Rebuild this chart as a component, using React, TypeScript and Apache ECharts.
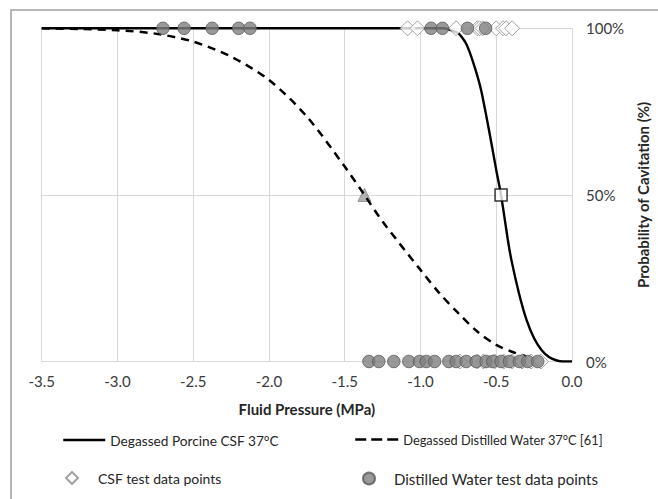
import React, { useEffect, useRef } from "react";
import * as echarts from "echarts";

// ---- data ----
const xTicks = [-3.5, -3.0, -2.5, -2.0, -1.5, -1.0, -0.5, 0.0];

// Degassed Porcine CSF 37°C fitted curve: [pressure MPa, probability %]
const csfCurve: [number, number][] = [
  [-3.5, 100], [-0.85, 100], [-0.75, 98.5], [-0.7, 95.5], [-0.65, 89.5],
  [-0.6, 81.5], [-0.55, 70], [-0.5, 57.5], [-0.468, 50], [-0.425, 37],
  [-0.4, 30.5], [-0.35, 20.5], [-0.3, 12.5], [-0.25, 7], [-0.2, 3.4],
  [-0.15, 1.3], [-0.1, 0.3], [-0.06, 0], [0, 0],
];

// Degassed Distilled Water 37°C [61] fitted curve
const waterCurve: [number, number][] = [
  [-3.5, 100], [-3.25, 99.8], [-3.0, 99.4], [-2.75, 98.4], [-2.5, 96],
  [-2.25, 91.5], [-2.0, 84.5], [-1.75, 73.5], [-1.5, 58.5], [-1.37, 50],
  [-1.25, 42], [-1.0, 27.5], [-0.875, 20.5], [-0.75, 14.5], [-0.625, 9],
  [-0.5, 5], [-0.4, 3], [-0.3, 1.5],
];

// 50% points
const csfMid: [number, number][] = [[-0.468, 50]];
const waterMid: [number, number][] = [[-1.37, 50]];

// test data points (x positions at 100% and 0%)
const csfTopX = [-1.085, -1.02, -0.765, -0.625, -0.61, -0.59, -0.5, -0.455, -0.435, -0.395];
const csfBottomX = [-0.74, -0.625, -0.585, -0.51, -0.45, -0.395, -0.33, -0.27, -0.205];
const waterTopX = [-2.7, -2.56, -2.375, -2.2, -2.125, -0.93, -0.855, -0.69, -0.57];
const waterBottomX = [
  -1.34, -1.275, -1.176, -1.077, -1.006, -0.962, -0.907, -0.813, -0.764,
  -0.698, -0.632, -0.567, -0.523, -0.468, -0.413, -0.347, -0.292, -0.226,
];

const names = {
  csfLine: "Degassed Porcine CSF 37°C",
  waterLine: "Degassed Distilled Water 37°C [61]",
  csfPts: "CSF test data points",
  waterPts: "Distilled Water test data points",
};

const FONT = "Lato";

export default function App() {
  const ref = useRef<HTMLDivElement>(null);

  useEffect(() => {
    if (!ref.current) return;
    const chart = echarts.init(ref.current, undefined, { renderer: "svg" });

    const csfPoints = [
      ...csfTopX.map((x) => [x, 100]),
      ...csfBottomX.map((x) => [x, 0]),
    ];
    const waterPoints = [
      ...waterTopX.map((x) => [x, 100]),
      ...waterBottomX.map((x) => [x, 0]),
    ];

    const legendText = { fontFamily: FONT, fontSize: 14, color: "#262626" };
    const hiddenSymbol = { color: "rgba(0,0,0,0)", borderWidth: 0, borderColor: "rgba(0,0,0,0)" };

    chart.setOption({
      animation: false,
      backgroundColor: "#ffffff",
      textStyle: { fontFamily: FONT },
      graphic: [
        {
          type: "rect",
          shape: { x: 11, y: 10, width: 700, height: 600 },
          style: { fill: "none", stroke: "#a0a0a0", lineWidth: 1.5 },
          silent: true,
          z: -10,
        },
      ],
      grid: { left: 41.7, right: 85.3, top: 28.3, bottom: 137.5 },
      xAxis: {
        type: "value",
        min: xTicks[0],
        max: xTicks[xTicks.length - 1],
        interval: 0.5,
        axisLine: { show: false },
        axisTick: { show: false },
        axisLabel: {
          margin: 12,
          fontFamily: FONT,
          fontSize: 15,
          color: "#3a3a3a",
          formatter: (v: number) => v.toFixed(1),
        },
        splitLine: { show: true, lineStyle: { color: "#d9d9d9", width: 1 } },
        name: "Fluid Pressure (MPa)",
        nameLocation: "middle",
        nameGap: 40,
        nameTextStyle: { fontFamily: FONT, fontSize: 15, fontWeight: "bold", color: "#262626" },
      },
      yAxis: {
        type: "value",
        position: "right",
        min: 0,
        max: 100,
        interval: 50,
        axisLine: { show: false },
        axisTick: { show: false },
        axisLabel: {
          margin: 14,
          fontFamily: FONT,
          fontSize: 15,
          color: "#3a3a3a",
          formatter: "{value}%",
        },
        splitLine: { show: true, lineStyle: { color: "#d9d9d9", width: 1 } },
        name: "Probability of Cavitation (%)",
        nameLocation: "middle",
        nameGap: 54,
        nameTextStyle: { fontFamily: FONT, fontSize: 15, fontWeight: "bold", color: "#262626" },
      },
      legend: [
        {
          data: [names.csfLine], left: 62, top: 433, padding: 0,
          itemWidth: 42, itemHeight: 14, selectedMode: false,
          textStyle: { ...legendText, fontSize: 13.7 },
          itemStyle: hiddenSymbol,
          lineStyle: { width: 2.5, color: "#000000", type: "solid" },
        },
        {
          data: [names.waterLine], left: 354, top: 433, padding: 0,
          itemWidth: 43, itemHeight: 14, selectedMode: false,
          textStyle: { ...legendText, fontSize: 12.8 },
          itemStyle: hiddenSymbol,
          lineStyle: { width: 2.5, color: "#000000", type: [11, 5], dashOffset: 0 },
        },
        {
          data: [names.csfPts], left: 65, top: 471, padding: 0,
          itemWidth: 12, itemHeight: 12, selectedMode: false,
          textStyle: { ...legendText, padding: [0, 0, 0, 15] },
        },
        {
          data: [names.waterPts], left: 362, top: 471, padding: 0,
          itemWidth: 12, itemHeight: 12, selectedMode: false,
          textStyle: { ...legendText, fontSize: 15, padding: [0, 0, 0, 14] },
        },
      ],
      series: [
        {
          name: "waterMid",
          type: "scatter",
          data: waterMid,
          symbol: "triangle",
          symbolSize: 13,
          itemStyle: { color: "#a0a0a0", borderColor: "#808080", borderWidth: 1 },
          z: 2,
        },
        {
          name: names.waterLine,
          type: "line",
          data: waterCurve,
          smooth: 0.3,
          symbol: "none",
          lineStyle: { color: "#000000", width: 2.5, type: [8, 6] },
          itemStyle: { color: "#000000" },
          z: 3,
        },
        {
          name: names.csfLine,
          type: "line",
          data: csfCurve,
          smooth: 0.2,
          symbol: "none",
          lineStyle: { color: "#000000", width: 2.4 },
          itemStyle: { color: "#000000" },
          z: 3,
        },
        {
          name: "csfMid",
          type: "scatter",
          data: csfMid,
          symbol: "rect",
          symbolSize: 12,
          itemStyle: { color: "#ffffff", borderColor: "#000000", borderWidth: 1.5 },
          z: 4,
        },
        {
          name: names.csfPts,
          type: "scatter",
          data: csfPoints,
          symbol: "diamond",
          symbolSize: 15,
          itemStyle: { color: "#ffffff", borderColor: "#8c8c8c", borderWidth: 1 },
          z: 5,
        },
        {
          name: names.waterPts,
          type: "scatter",
          data: waterPoints,
          symbol: "circle",
          symbolSize: 12.5,
          itemStyle: { color: "#7f7f7f", borderColor: "#595959", borderWidth: 1 },
          z: 6,
        },
      ],
    });

    return () => chart.dispose();
  }, []);

  return (
    <div
      ref={ref}
      style={{ position: "fixed", left: 0, top: 0, width: 658, height: 499 }}
    />
  );
}
